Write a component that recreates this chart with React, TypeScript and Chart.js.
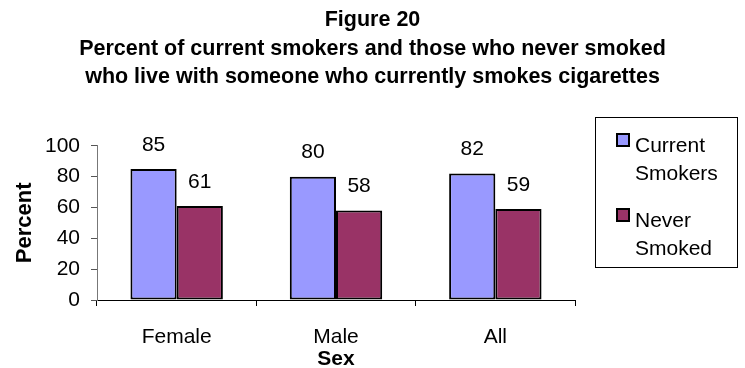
import React, { useEffect, useRef } from "react";
import { Chart, registerables } from "chart.js";

Chart.register(...registerables);

const titleLines = [
  "Figure 20",
  "Percent of current smokers and those who never smoked",
  "who live with someone who currently smokes cigarettes",
];
const categories = ["Female", "Male", "All"];
const seriesLabels = ["Current Smokers", "Never Smoked"];
const currentSmokers = [85, 80, 82];
const neverSmoked = [61, 58, 59];
const seriesColors = ["#9999FF", "#993366"];
const xTitle = "Sex";
const yTitle = "Percent";
const yMin = 0;
const yMax = 100;
const yStep = 20;

const FONT = "Arial, 'Liberation Sans', sans-serif";

const valueLabelPlugin = {
  id: "valueLabels",
  afterDatasetsDraw(chart: any) {
    const ctx = chart.ctx;
    ctx.save();
    ctx.font = `21px ${FONT}`;
    ctx.fillStyle = "#000";
    ctx.textAlign = "center";
    ctx.textBaseline = "middle";
    chart.data.datasets.forEach((ds: any, di: number) => {
      const meta = chart.getDatasetMeta(di);
      meta.data.forEach((el: any, i: number) => {
        ctx.fillText(String(ds.data[i]), el.x, el.y - 24);
      });
    });
    ctx.restore();
  },
};

export default function App() {
  const canvasRef = useRef<HTMLCanvasElement | null>(null);

  useEffect(() => {
    if (!canvasRef.current) return;
    const chart = new Chart(canvasRef.current, {
      type: "bar",
      data: {
        labels: categories,
        datasets: [
          {
            label: seriesLabels[0],
            data: currentSmokers,
            backgroundColor: seriesColors[0],
            borderColor: "#000",
            borderWidth: 2,
            borderSkipped: false,
            categoryPercentage: 0.58,
            barPercentage: 1,
          },
          {
            label: seriesLabels[1],
            data: neverSmoked,
            backgroundColor: seriesColors[1],
            borderColor: "#000",
            borderWidth: 2,
            borderSkipped: false,
            categoryPercentage: 0.58,
            barPercentage: 1,
          },
        ],
      },
      options: {
        responsive: false,
        animation: false,
        layout: { padding: 0 },
        plugins: {
          legend: { display: false },
          tooltip: { enabled: false },
          title: {
            display: true,
            text: titleLines,
            color: "#000",
            font: { family: FONT, size: 21.5, weight: "bold", lineHeight: 1.33 },
            padding: { top: 6, bottom: 54 },
          },
        },
        scales: {
          x: {
            grid: {
              drawOnChartArea: false,
              drawTicks: true,
              tickLength: 6,
              color: "#000",
            },
            border: { display: true, color: "#000", width: 1 },
            ticks: {
              color: "#000",
              font: { family: FONT, size: 21 },
              padding: 19,
            },
            title: {
              display: true,
              text: xTitle,
              color: "#000",
              font: { family: FONT, size: 21, weight: "bold", lineHeight: 0.8 },
              padding: { top: 0, bottom: 0 },
            },
            afterFit(scale: any) {
              scale.height = 68;
            },
          },
          y: {
            min: yMin,
            max: yMax,
            grid: {
              drawOnChartArea: false,
              drawTicks: true,
              tickLength: 6,
              color: "#555",
            },
            border: { display: true, color: "#777", width: 1 },
            ticks: {
              stepSize: yStep,
              color: "#000",
              font: { family: FONT, size: 21 },
              padding: 11,
            },
            title: {
              display: true,
              text: yTitle,
              color: "#000",
              font: { family: FONT, size: 22, weight: "bold" },
              padding: { top: 12, bottom: 0 },
            },
            afterFit(scale: any) {
              scale.width = 97;
            },
          },
          legendSpace: {
            type: "linear",
            position: "right",
            display: true,
            grid: { display: false, drawTicks: false },
            border: { display: false },
            ticks: { display: false },
            afterFit(scale: any) {
              scale.width = 170;
            },
          },
        },
      },
      plugins: [valueLabelPlugin],
    });
    return () => chart.destroy();
  }, []);

  const legendTops = [13, 88];

  return (
    <div
      style={{
        position: "fixed",
        left: 0,
        top: 0,
        width: 745,
        height: 368,
        background: "#fff",
      }}
    >
      <canvas ref={canvasRef} width={745} height={368} style={{ width: 745, height: 368, display: "block" }} />
      <div
        style={{
          position: "absolute",
          left: 595,
          top: 117,
          width: 141,
          height: 149,
          border: "1px solid #000",
          fontFamily: FONT,
          fontSize: 21,
          color: "#000",
        }}
      >
        {seriesLabels.map((lbl, i) => (
          <React.Fragment key={lbl}>
            <div
              style={{
                position: "absolute",
                left: 20,
                top: legendTops[i] + 2,
                width: 10,
                height: 10,
                background: seriesColors[i],
                border: "2px solid #000",
              }}
            />
            <div
              style={{
                position: "absolute",
                left: 39,
                top: legendTops[i],
                width: 98,
                lineHeight: "28px",
              }}
            >
              {lbl}
            </div>
          </React.Fragment>
        ))}
      </div>
    </div>
  );
}
